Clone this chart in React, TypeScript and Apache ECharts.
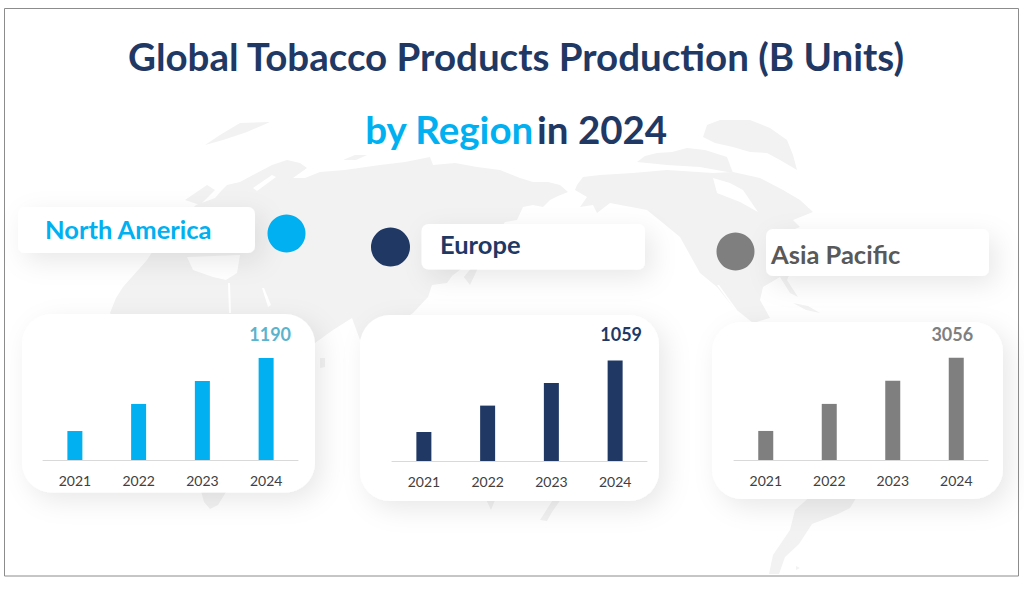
import React, { useEffect, useRef } from "react";
import * as echarts from "echarts";

const years = ["2021", "2022", "2023", "2024"];
const northAmerica = [338, 654, 922, 1190];
const europe = [305, 583, 820, 1059];
const asiaPacific = [869, 1678, 2367, 3056];

const BLUE = "#00b0f0";
const NAVY = "#1f3864";
const GREY = "#7f7f7f";
const LAND = "#f2f2f3";
const FONT = "Lato, Carlito, sans-serif";

const landShapes: number[][][] = [
  // Eurasia and Africa
  [[110,313],[116,298],[123,287],[147,260],[160,240],[185,215],[196,205],[215,198],[222,190],[227,185],[240,182],[253,175],[272,165],[287,160],[300,163],[307,168],[293,178],[305,178],[320,172],[345,170],[380,165],[405,162],[430,157],[433,165],[455,163],[477,167],[500,170],[520,178],[533,182],[548,182],[560,185],[568,192],[558,196],[550,200],[543,207],[533,205],[523,207],[517,220],[505,222],[495,235],[480,262],[477,270],[470,285],[460,272],[452,276],[447,283],[432,285],[428,297],[413,313],[395,325],[375,322],[360,340],[352,318],[333,330],[315,343],[315,360],[300,380],[290,400],[262,440],[226,492],[218,505],[210,509],[204,502],[198,480],[170,420],[160,370],[135,345]],
  // Greenland
  [[707,125],[720,120],[750,120],[770,128],[787,140],[793,155],[797,170],[780,160],[767,153],[750,152],[733,147],[715,143],[703,137]],
  // Arctic islands
  [[637,162],[645,156],[657,153],[672,152],[687,148],[705,150],[727,157],[733,173],[700,167],[667,165]],
  // North America
  [[577,185],[583,177],[600,175],[633,173],[667,170],[713,173],[733,172],[760,178],[783,190],[800,200],[813,212],[793,220],[800,227],[787,232],[795,262],[787,280],[798,297],[790,293],[780,277],[763,287],[760,300],[770,318],[753,323],[733,307],[717,287],[700,273],[680,237],[663,223],[647,210],[610,203],[597,213],[593,205],[580,207],[587,197],[575,190]],
  // Northern islands over the Atlantic
  [[205,145],[220,135],[240,123],[270,122],[247,132],[223,140]],
  [[343,160],[355,155],[367,155],[356,160]],
  [[185,200],[207,185],[215,190],[200,205]],
  // Southern tips below the cards
  [[812,495],[858,495],[850,508],[838,514],[812,524],[799,544],[785,557],[779,574],[769,574],[773,555],[790,530],[795,510]],
  [[484,495],[497,495],[491,510]],
  [[556,495],[564,495],[552,512],[547,521],[540,520]],
  [[796,566],[800,568],[796,570]],
  [[320,358],[325,358],[325,367],[320,368]],
  // Caribbean
  [[793,303],[808,306],[820,313],[806,310]],
];

const seaShapes: number[][][] = [
  // Hudson Bay
  [[713,178],[730,183],[743,190],[758,212],[740,202],[717,193]],
  // Mediterranean
  [[187,257],[240,255],[237,273],[226,280],[213,277],[193,270]],
  // Red Sea and Persian Gulf
  [[228,283],[230,283],[231,313],[229,313]],
  [[262,288],[264,288],[271,305],[268,307]],
  // Baltic
  [[253,188],[272,175],[276,177],[257,191]],
  // Gulf of California
  [[717,285],[719,285],[737,310],[735,310]],
  // Sea of Japan
  [[452,276],[470,262],[473,266],[458,284]],
];

const shadow = { shadowBlur: 26, shadowColor: "rgba(0,0,0,0.09)", shadowOffsetX: 7, shadowOffsetY: 8 };

function card(x: number, y: number, width: number, height: number, r: number) {
  return { type: "rect", z: -1, shape: { x, y, width, height, r }, style: { fill: "#fff", ...shadow } };
}
function dot(cx: number, cy: number, r: number, fill: string) {
  return { type: "circle", z: 1, shape: { cx, cy, r }, style: { fill } };
}
function pillText(x: number, y: number, text: string, fill: string) {
  return {
    type: "text", z: 1, x, y,
    style: { text, fill, font: `bold 25.5px ${FONT}`, textAlign: "left", textVerticalAlign: "middle" },
  };
}

type Panel = { left: number; width: number; top: number; bottom: number; max: number; values: number[]; color: string; labelColor: string; dx: number; gap: number };
const panels: Panel[] = [
  { left: 43, width: 255, top: 340, bottom: 460, max: 1400, values: northAmerica, color: BLUE, labelColor: "#5cb3cc", dx: 4, gap: 15 },
  { left: 392, width: 255, top: 347, bottom: 461, max: 1200, values: europe, color: NAVY, labelColor: NAVY, dx: 6, gap: 17 },
  { left: 734, width: 254, top: 343, bottom: 460, max: 3500, values: asiaPacific, color: GREY, labelColor: GREY, dx: -4, gap: 15 },
];

export default function App() {
  const ref = useRef<HTMLDivElement>(null);
  useEffect(() => {
    const chart = echarts.init(ref.current!, null, { renderer: "svg" });
    chart.setOption({
      animation: false,
      backgroundColor: "#ffffff",
      grid: panels.map((p) => ({ left: p.left, width: p.width, top: p.top, height: p.bottom - p.top, containLabel: false })),
      xAxis: panels.map((_, i) => ({
        type: "category", gridIndex: i, data: years,
        axisTick: { show: false },
        axisLine: { lineStyle: { color: "#d9d9d9", width: 1 } },
        axisLabel: { color: "#404040", fontFamily: FONT, fontSize: 14, margin: 13 },
      })),
      yAxis: panels.map((p, i) => ({ type: "value", gridIndex: i, min: 0, max: p.max, show: false, splitLine: { show: false } })),
      series: panels.map((p, i) => ({
        type: "bar", xAxisIndex: i, yAxisIndex: i, barWidth: 15, z: 3,
        itemStyle: { color: p.color },
        data: p.values.map((v, k) =>
          k === p.values.length - 1
            ? {
                value: v,
                label: {
                  show: true, position: "top", distance: p.gap, offset: [p.dx, 0],
                  color: p.labelColor, fontFamily: FONT, fontWeight: "bold", fontSize: 18,
                },
              }
            : v,
        ),
      })),
      graphic: { elements: [
        ...landShapes.map((points) => ({ type: "polygon", z: -3, shape: { points }, style: { fill: LAND } })),
        ...seaShapes.map((points) => ({ type: "polygon", z: -2, shape: { points }, style: { fill: "#ffffff" } })),
        { type: "rect", z: -1, shape: { x: 4.5, y: 8.5, width: 1014, height: 567.5 }, style: { fill: "none", stroke: "#8c8c8c", lineWidth: 1 } },
        card(22, 314, 293, 178.5, 30),
        card(360, 315, 299, 186, 30),
        card(712, 322, 291, 177, 30),
        card(18, 207, 237, 46, 7),
        card(421.5, 224, 223.5, 45.5, 7),
        card(766, 229, 223, 47, 7),
        dot(286.5, 233.5, 19, BLUE),
        dot(390.5, 247, 19.5, NAVY),
        dot(735.5, 251.5, 19, GREY),
        pillText(45, 229, "North America", BLUE),
        pillText(440, 244, "Europe", NAVY),
        pillText(771, 254, "Asia Pacific", "#595959"),
        {
          type: "text", z: 1, x: 516, y: 56,
          style: { text: "Global Tobacco Products Production (B Units)", fill: NAVY, font: `bold 38.5px ${FONT}`, textAlign: "center", textVerticalAlign: "middle" },
        },
        {
          type: "text", z: 1, x: 516, y: 129,
          style: {
            text: "{a|by Region} {b|in 2024}", textAlign: "center", textVerticalAlign: "middle",
            rich: {
              a: { fill: BLUE, font: `bold 38.5px ${FONT}` },
              b: { fill: NAVY, font: `bold 38.5px ${FONT}` },
            },
          },
        },
      ] },
    });
    return () => chart.dispose();
  }, []);
  return <div ref={ref} style={{ position: "absolute", left: 0, top: 0, width: 1024, height: 592 }} />;
}
